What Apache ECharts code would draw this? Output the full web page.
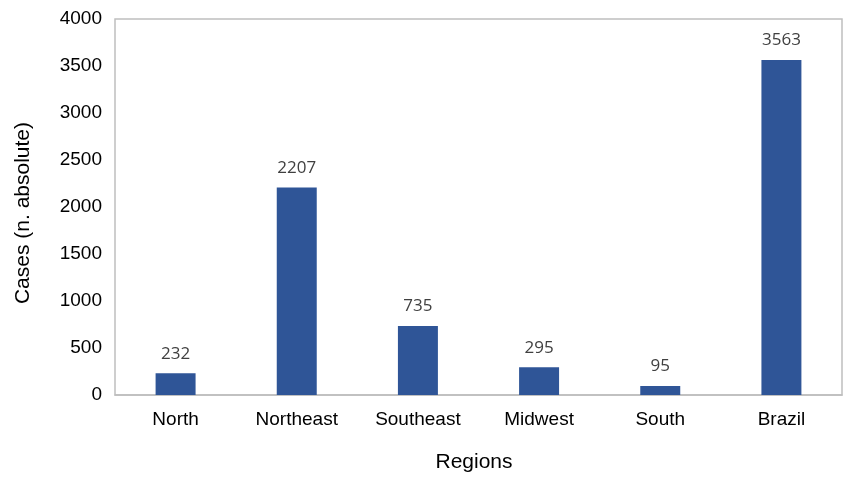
<!DOCTYPE html>
<html><head><meta charset="utf-8">
<script src="https://cdn.jsdelivr.net/npm/echarts@6/dist/echarts.min.js"></script>
<style>html,body{margin:0;padding:0;background:#fff}#c{width:843px;height:478px}</style>
</head><body><div id="c"></div>
<script>
const categories = ['North', 'Northeast', 'Southeast', 'Midwest', 'South', 'Brazil'];
const cases = [232, 2207, 735, 295, 95, 3563];
const yTicks = { min: 0, max: 4000, interval: 500 };

const chart = echarts.init(document.getElementById('c'));
chart.setOption({
  animation: false,
  grid: { left: 115, right: 1, top: 19, bottom: 80, show: true, borderColor: '#bfbfbf', borderWidth: 1.5, backgroundColor: 'transparent' },
  xAxis: {
    type: 'category', data: categories,
    name: 'Regions', nameLocation: 'middle', nameGap: 57,
    nameTextStyle: { fontFamily: 'Liberation Sans', fontSize: 21, color: '#000', padding: [0, 9, 0, 0] },
    axisLine: { show: true, lineStyle: { color: '#bfbfbf', width: 1.5 } },
    axisTick: { show: false },
    axisLabel: { fontFamily: 'Liberation Sans', fontSize: 19, color: '#000', margin: 15 }
  },
  yAxis: {
    type: 'value', min: yTicks.min, max: yTicks.max, interval: yTicks.interval,
    name: 'Cases (n. absolute)', nameLocation: 'middle', nameGap: 81, nameRotate: 90,
    nameTextStyle: { fontFamily: 'Liberation Sans', fontSize: 21, color: '#000', padding: [0, 12, 0, 0] },
    axisLine: { show: false }, axisTick: { show: false }, splitLine: { show: false },
    axisLabel: { fontFamily: 'Liberation Sans', fontSize: 19, color: '#000', margin: 13, formatter: v => String(v) }
  },
  series: [{
    type: 'bar', data: cases, barWidth: '33%',
    itemStyle: { color: '#2F5597' },
    label: { show: true, position: 'top', distance: 11, fontFamily: 'Open Sans', fontSize: 17, color: '#404040' }
  }]
});
</script></body></html>
